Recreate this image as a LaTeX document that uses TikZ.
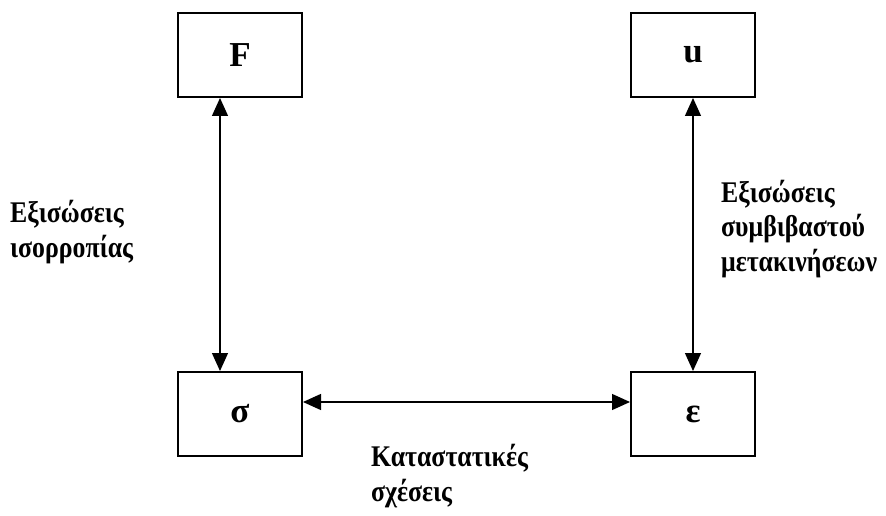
\documentclass[tikz,border=0pt]{standalone}
\usepackage{fontspec}
\setmainfont{Liberation Serif}
\newfontfamily\narrowserif[FakeStretch=0.86]{Liberation Serif}
\usepackage{tikz}
\usetikzlibrary{arrows.meta,positioning}

\begin{document}
\begin{tikzpicture}[
    x=1pt, y=-1pt,
    node distance=273pt and 327pt,
    box/.style={rectangle, draw, line width=2pt, minimum width=124pt, minimum height=84pt,
      font=\fontsize{35}{40}\selectfont\bfseries},
    lbl/.style={align=left, anchor=west, inner sep=0pt,
      font=\narrowserif\fontsize{30}{34.5}\selectfont\bfseries},
    arrow/.style={{Triangle[length=18pt,width=16pt]}-{Triangle[length=18pt,width=16pt]}, line width=1.3pt}
  ]
    \useasboundingbox (0,0) rectangle (886,516);
    \node[box] (F) at (240,55) {F};
    \node[box, right=of F] (u) {u};
    \node[box, below=of F] (s) {σ};
    \node[box, below=of u] (e) {ε};
    \draw[arrow] ([xshift=-20pt]F.south) -- ([xshift=-20pt]s.north);
    \draw[arrow] (u) -- (e);
    \draw[arrow] ([yshift=12pt]s.east) -- ([yshift=12pt]e.west);
    \node[lbl] (ison) at (10,232) {Εξισώσεις\\ισορροπίας};
    \node[lbl] (symv) at (721,229) {Εξισώσεις\\συμβιβαστού\\μετακινήσεων};
    \node[lbl] (katast) at (371,476) {Καταστατικές\\σχέσεις};
  \end{tikzpicture}
\end{document}
